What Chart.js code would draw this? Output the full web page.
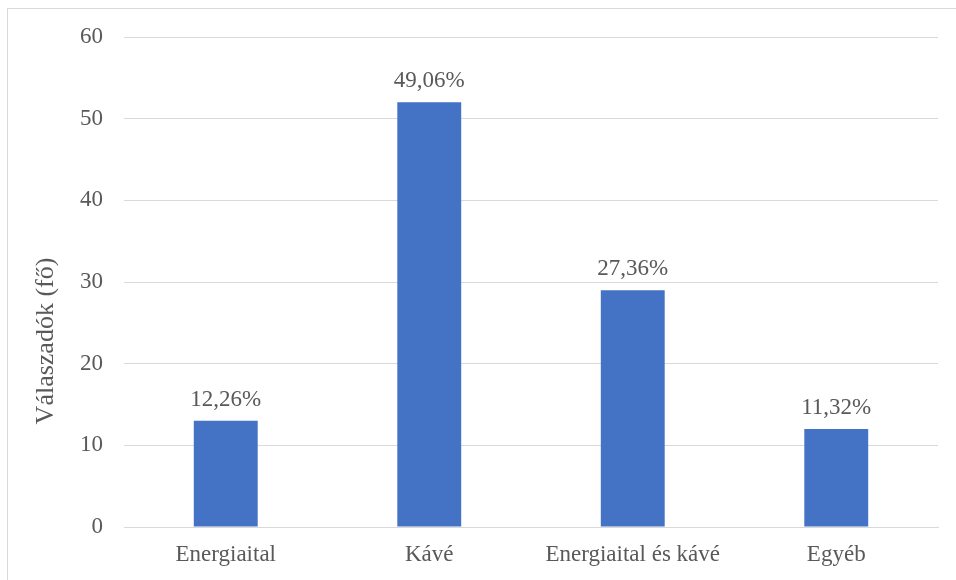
<!DOCTYPE html>
<html>
<head>
<meta charset="utf-8">
<script src="https://cdn.jsdelivr.net/npm/chart.js@4/dist/chart.umd.min.js"></script>
<style>
  html, body { margin: 0; padding: 0; background: #ffffff; }
  #wrap { position: relative; width: 956px; height: 580px; overflow: hidden; }
  #frame { position: absolute; left: 7px; top: 8px; width: 1000px; height: 1000px;
           border: 1px solid #d9d9d9; box-sizing: border-box; }
  #chart { position: absolute; left: 0; top: 0; }
</style>
</head>
<body>
<div id="wrap">
  <div id="frame"></div>
  <canvas id="chart" width="956" height="580"></canvas>
</div>
<script>
// Respondents by preferred stimulant
const categories = ['Energiaital', 'Kávé', 'Energiaital és kávé', 'Egyéb'];
const respondents = [13, 52, 29, 12];
const yTicks = [0, 10, 20, 30, 40, 50, 60];
const yAxisTitle = 'Válaszadók (fő)';

const total = respondents.reduce((a, b) => a + b, 0);
const shareLabels = respondents.map(v => (v / total * 100).toFixed(2).replace('.', ',') + '%');

const serif = '"Liberation Serif", "Times New Roman", serif';
const textColor = '#595959';
const gridColor = '#d9d9d9';

// Writes the share of respondents above each bar
const shareLabelPlugin = {
  id: 'shareLabels',
  afterDatasetsDraw(chart) {
    const ctx = chart.ctx;
    const meta = chart.getDatasetMeta(0);
    ctx.save();
    ctx.font = '23px ' + serif;
    ctx.fillStyle = textColor;
    ctx.textAlign = 'center';
    ctx.textBaseline = 'alphabetic';
    meta.data.forEach((bar, i) => {
      ctx.fillText(shareLabels[i], bar.x, bar.y - 15);
    });
    ctx.restore();
  }
};

// Vertical axis title, set a little below the middle of the value axis
const axisTitlePlugin = {
  id: 'axisTitle',
  afterDraw(chart) {
    const ctx = chart.ctx;
    const y = chart.scales.y;
    ctx.save();
    ctx.font = '26px ' + serif;
    ctx.fillStyle = textColor;
    ctx.textAlign = 'center';
    ctx.textBaseline = 'middle';
    ctx.translate(y.left + 46, (y.top + y.bottom) / 2 + 59);
    ctx.rotate(-Math.PI / 2);
    ctx.fillText(yAxisTitle, 0, 0);
    ctx.restore();
  }
};

new Chart(document.getElementById('chart'), {
  type: 'bar',
  data: {
    labels: categories,
    datasets: [{
      data: respondents,
      backgroundColor: '#4472C4',
      borderWidth: 0,
      barPercentage: 0.314,
      categoryPercentage: 1
    }]
  },
  options: {
    responsive: false,
    animation: false,
    devicePixelRatio: 1,
    layout: { padding: { top: 37, right: 18, bottom: 0, left: 0 } },
    plugins: { legend: { display: false }, tooltip: { enabled: false } },
    scales: {
      x: {
        grid: { display: false, drawTicks: false },
        border: { display: true, color: gridColor, width: 1 },
        ticks: { color: textColor, font: { family: serif, size: 23 }, padding: 14, maxRotation: 0 },
        afterFit(scale) { scale.height = 53; }
      },
      y: {
        min: 0,
        max: 60,
        afterBuildTicks(scale) { scale.ticks = yTicks.map(v => ({ value: v })); },
        grid: { color: gridColor, lineWidth: 1, drawTicks: false },
        border: { display: false },
        ticks: { color: textColor, font: { family: serif, size: 23 }, padding: 21 },
        afterFit(scale) { scale.width = 124; }
      }
    }
  },
  plugins: [shareLabelPlugin, axisTitlePlugin]
});
</script>
</body>
</html>
